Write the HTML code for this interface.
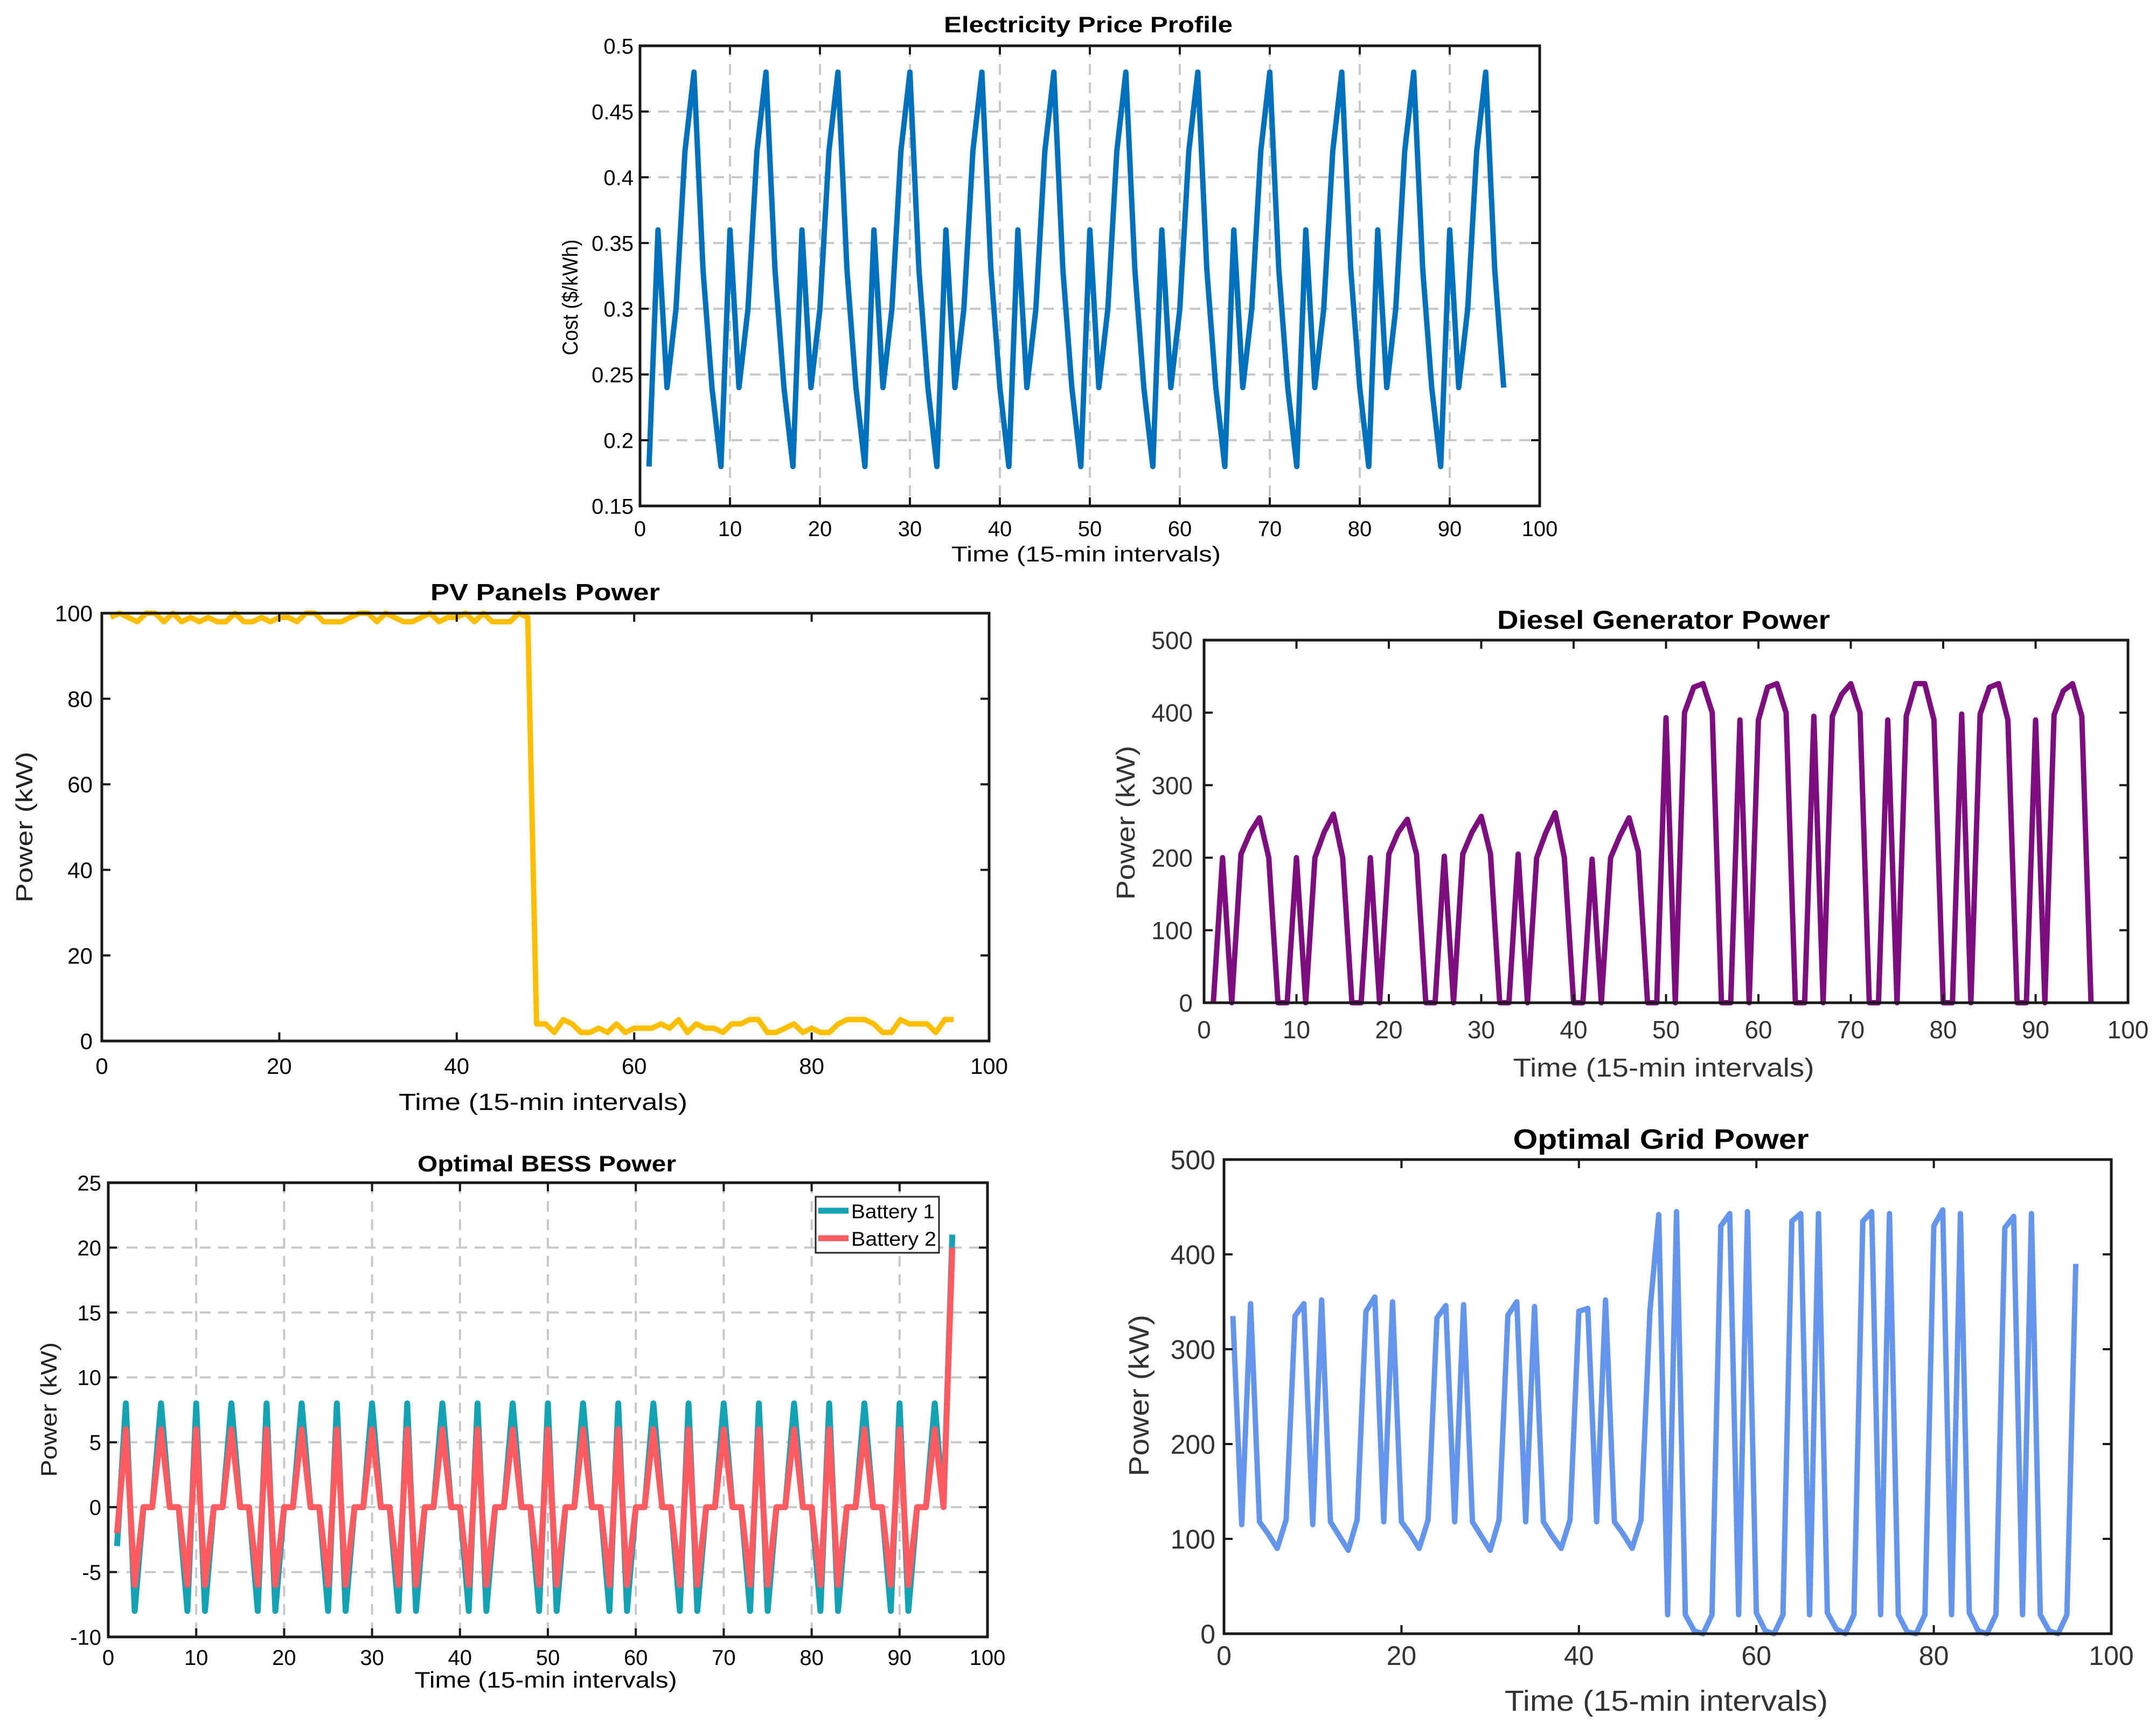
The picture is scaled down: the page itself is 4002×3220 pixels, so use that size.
<!DOCTYPE html>
<html><head><meta charset="utf-8"><style>
html,body{margin:0;padding:0;background:#fff;}
svg{display:block;font-family:"Liberation Sans",Arial,sans-serif;}
</style></head><body>
<svg id="fig" width="4002" height="3220" viewBox="0 0 4002 3220" xmlns="http://www.w3.org/2000/svg"></svg>
<script>
const timeIdx = Array.from({length:96},(_,i)=>i+1);
const priceValues = [0.18,0.36,0.24,0.30,0.42,0.48,0.33,0.24,0.18,0.36,0.24,0.30,0.42,0.48,0.33,0.24,0.18,0.36,0.24,0.30,0.42,0.48,0.33,0.24,0.18,0.36,0.24,0.30,0.42,0.48,0.33,0.24,0.18,0.36,0.24,0.30,0.42,0.48,0.33,0.24,0.18,0.36,0.24,0.30,0.42,0.48,0.33,0.24,0.18,0.36,0.24,0.30,0.42,0.48,0.33,0.24,0.18,0.36,0.24,0.30,0.42,0.48,0.33,0.24,0.18,0.36,0.24,0.30,0.42,0.48,0.33,0.24,0.18,0.36,0.24,0.30,0.42,0.48,0.33,0.24,0.18,0.36,0.24,0.30,0.42,0.48,0.33,0.24,0.18,0.36,0.24,0.30,0.42,0.48,0.33,0.24];
const pvValues = [99,100,99,98,100,100,98,100,98,99,98,99,98,98,100,98,98,99,98,99,99,98,100,100,98,98,98,99,100,100,98,100,99,98,98,99,100,98,99,99,100,98,100,98,98,98,100,99,
4,4,2,5,4,2,2,3,2,4,2,3,3,3,4,3,5,2,4,3,3,2,4,4,5,5,2,2,3,4,2,3,2,2,4,5,5,5,4,2,2,5,4,4,4,2,5,5];
const dieselValues = [0,200,0,205,235,255,200,0, 0,200,0,200,235,260,200,0, 0,200,0,205,235,253,205,0, 0,202,0,205,235,257,205,0, 0,205,0,200,235,262,200,0, 0,198,0,200,230,255,208,0,
0,393,0,400,435,440,400,0, 0,390,0,390,435,440,400,0, 0,395,0,395,425,440,400,0, 0,390,0,395,440,440,390,0, 0,398,0,398,435,440,390,0, 0,390,0,397,430,440,395,0];
const gridValues = [335,115,348,118,105,90,120,335, 348,115,352,118,103,88,120,340, 355,118,350,118,105,90,120,333, 346,118,347,118,103,88,120,336, 350,118,345,118,103,90,120,340, 343,118,352,118,105,90,120,340,
442,20,445,20,3,0,20,430, 443,20,445,22,3,0,20,435, 443,20,443,22,5,0,20,435, 445,20,443,20,2,0,20,430, 447,20,443,22,3,0,20,428, 440,20,443,20,3,0,20,390];
const bess1Pattern = [-8,8,-8,0,0,8,0,0];
const bess1Values = [-3,8,-8,0,0,8,0,0, -8,8,-8,0,0,8,0,0, -8,8,-8,0,0,8,0,0, -8,8,-8,0,0,8,0,0, -8,8,-8,0,0,8,0,0, -8,8,-8,0,0,8,0,0, -8,8,-8,0,0,8,0,0, -8,8,-8,0,0,8,0,0, -8,8,-8,0,0,8,0,0, -8,8,-8,0,0,8,0,0, -8,8,-8,0,0,8,0,0, -8,8,-8,0,0,8,0,21];
const bess2Values = [-2,6,-6,0,0,6,0,0, -6,6,-6,0,0,6,0,0, -6,6,-6,0,0,6,0,0, -6,6,-6,0,0,6,0,0, -6,6,-6,0,0,6,0,0, -6,6,-6,0,0,6,0,0, -6,6,-6,0,0,6,0,0, -6,6,-6,0,0,6,0,0, -6,6,-6,0,0,6,0,0, -6,6,-6,0,0,6,0,0, -6,6,-6,0,0,6,0,0, -6,6,-6,0,0,6,0,20];
const priceYTicks = ['0.15','0.2','0.25','0.3','0.35','0.4','0.45','0.5'];
const xTicks10 = ['0','10','20','30','40','50','60','70','80','90','100'];
const xTicks20 = ['0','20','40','60','80','100'];
const pvYTicks = ['0','20','40','60','80','100'];
const powerYTicks = ['0','100','200','300','400','500'];
const bessYTicks = ['-10','-5','0','5','10','15','20','25'];

const NS='http://www.w3.org/2000/svg';
const svg=document.getElementById('fig');
function mk(tag,attrs,parent){const e=document.createElementNS(NS,tag);for(const k in attrs)e.setAttribute(k,attrs[k]);(parent||svg).appendChild(e);return e;}

function chart(c){
  const g=mk('g',{});
  
  
  const sx=v=>c.L+(v-c.xmin)/(c.xmax-c.xmin)*(c.R-c.L);
  const sy=v=>c.B-(v-c.ymin)/(c.ymax-c.ymin)*(c.B-c.T);
  // grid
  if(c.grid){
    c.xt.forEach(t=>{const x=sx(+t);const l=mk('line',{x1:x,y1:c.T,x2:x,y2:c.B,stroke:'#c8c8c8','stroke-width':4,'stroke-dasharray':'20,14'},g);
      
      });
    c.yt.forEach(t=>{const y=sy(+t);const l=mk('line',{x1:c.L,y1:y,x2:c.R,y2:y,stroke:'#c8c8c8','stroke-width':4,'stroke-dasharray':'20,14'},g);
      
      });
  }
  // series
  c.series.forEach(s=>{
    const pts=timeIdx.map((t,i)=>sx(t).toFixed(1)+','+sy(s.v[i]).toFixed(1)).join(' ');
    const p=mk('polyline',{points:pts,fill:'none',stroke:s.color,'stroke-width':c.lw,'stroke-linejoin':'round'},g);
    
    
  });
  // box
  const box=mk('rect',{x:c.L,y:c.T,width:c.R-c.L,height:c.B-c.T,fill:'none',stroke:'#1a1a1a','stroke-width':5},g);
  
  
  const tl=16;
  c.xt.forEach(t=>{const x=sx(+t);
    mk('line',{x1:x,y1:c.B,x2:x,y2:c.B-tl,stroke:'#1a1a1a','stroke-width':4},g);
    mk('line',{x1:x,y1:c.T,x2:x,y2:c.T+tl,stroke:'#1a1a1a','stroke-width':4},g);
    const tx=mk('text',{x:x,y:c.xTickY,'text-anchor':'middle','font-size':c.fs,fill:c.tc},g);tx.textContent=t;
    
    });
  c.yt.forEach(t=>{const y=sy(+t);
    mk('line',{x1:c.L,y1:y,x2:c.L+tl,y2:y,stroke:'#1a1a1a','stroke-width':4},g);
    mk('line',{x1:c.R,y1:y,x2:c.R-tl,y2:y,stroke:'#1a1a1a','stroke-width':4},g);
    const tx=mk('text',{x:c.yTickX,y:y+c.fs*0.36,'text-anchor':'end','font-size':c.fs,fill:c.tc},g);tx.textContent=t;
    
    });
  const ti=mk('text',{x:c.title[1],y:c.title[2],'text-anchor':'middle','font-size':c.title[4],'font-weight':'bold',textLength:c.title[3],lengthAdjust:'spacingAndGlyphs',fill:'#000'},g);
  ti.textContent=c.title[0];
  
  
  const xl=mk('text',{x:c.xl[1],y:c.xl[2],'text-anchor':'middle','font-size':c.xl[4],textLength:c.xl[3],lengthAdjust:'spacingAndGlyphs',fill:c.tc},g);
  xl.textContent=c.xl[0];
  
  
  const yl=mk('text',{x:0,y:0,'text-anchor':'middle','font-size':c.yl[4],textLength:c.yl[3],lengthAdjust:'spacingAndGlyphs',fill:c.ylc||c.tc,transform:`translate(${c.yl[1]},${c.yl[2]}) rotate(-90)`},g);
  yl.textContent=c.yl[0];
  
  
  return g;
}

chart({name:'price-chart',L:1188,R:2858,T:85,B:939,xmin:0,xmax:100,ymin:0.15,ymax:0.5,grid:true,lw:10,fs:40,tc:'#000',
  xt:xTicks10,yt:priceYTicks,xTickY:995,yTickX:1176,
  series:[{name:'price-line',v:priceValues,color:'#0072BD'}],
  title:['Electricity Price Profile',2020,60,536,42],xl:['Time (15-min intervals)',2016,1042,500,40],yl:['Cost ($/kWh)',1072,552,215,40]});

chart({name:'pv-chart',L:189,R:1836,T:1138,B:1932,xmin:0,xmax:100,ymin:0,ymax:100,grid:false,lw:10,fs:42,tc:'#000',
  xt:xTicks20,yt:pvYTicks,xTickY:1993,yTickX:172,
  series:[{name:'pv-power-line',v:pvValues,color:'#FFBF00'}],
  title:['PV Panels Power',1012,1114,426,44],xl:['Time (15-min intervals)',1008,2060,536,44],yl:['Power (kW)',60,1535,280,44],ylc:'#222'});

chart({name:'diesel-chart',L:2235,R:3950,T:1188,B:1861,xmin:0,xmax:100,ymin:0,ymax:500,grid:false,lw:10,fs:46,tc:'#333',
  xt:xTicks10,yt:powerYTicks,xTickY:1927,yTickX:2214,
  series:[{name:'diesel-power-line',v:dieselValues,color:'#7E0E80'}],
  title:['Diesel Generator Power',3088,1167,618,48],xl:['Time (15-min intervals)',3088,1998,559,48],yl:['Power (kW)',2106,1527,286,48],ylc:'#333'});

chart({name:'grid-chart',L:2272,R:3919,T:2152,B:3032,xmin:0,xmax:100,ymin:0,ymax:500,grid:false,lw:10,fs:50,tc:'#333',
  xt:xTicks20,yt:powerYTicks,xTickY:3090,yTickX:2256,
  series:[{name:'grid-power-line',v:gridValues,color:'#6495ED'}],
  title:['Optimal Grid Power',3083,2132,549,52],xl:['Time (15-min intervals)',3093,3175,600,54],yl:['Power (kW)',2132,2590,300,52],ylc:'#333'});

chart({name:'bess-chart',L:201,R:1833,T:2195,B:3038,xmin:0,xmax:100,ymin:-10,ymax:25,grid:true,lw:11,fs:40,tc:'#000',
  xt:xTicks10,yt:bessYTicks,xTickY:3090,yTickX:188,
  series:[{name:'battery-1-line',v:bess1Values,color:'#12A4B4'},{name:'battery-2-line',v:bess2Values,color:'#FF5A5F'}],
  title:['Optimal BESS Power',1015,2174,480,42],xl:['Time (15-min intervals)',1013,3132,487,42],yl:['Power (kW)',105,2616,250,42],ylc:'#222'});

// legend
const lg=mk('g',{});


mk('rect',{x:1514,y:2221,width:229,height:104,fill:'#fff',stroke:'#262626','stroke-width':3},lg);
const le1=mk('line',{x1:1519,y1:2247,x2:1575,y2:2247,stroke:'#12A4B4','stroke-width':11},lg);


const lt1=mk('text',{x:1580,y:2261,'font-size':37,textLength:155,lengthAdjust:'spacingAndGlyphs'},lg);lt1.textContent='Battery 1';


const le2=mk('line',{x1:1519,y1:2298,x2:1575,y2:2298,stroke:'#FF5A5F','stroke-width':11},lg);


const lt2=mk('text',{x:1580,y:2312,'font-size':37,textLength:158,lengthAdjust:'spacingAndGlyphs'},lg);lt2.textContent='Battery 2';


</script>
</body></html>
